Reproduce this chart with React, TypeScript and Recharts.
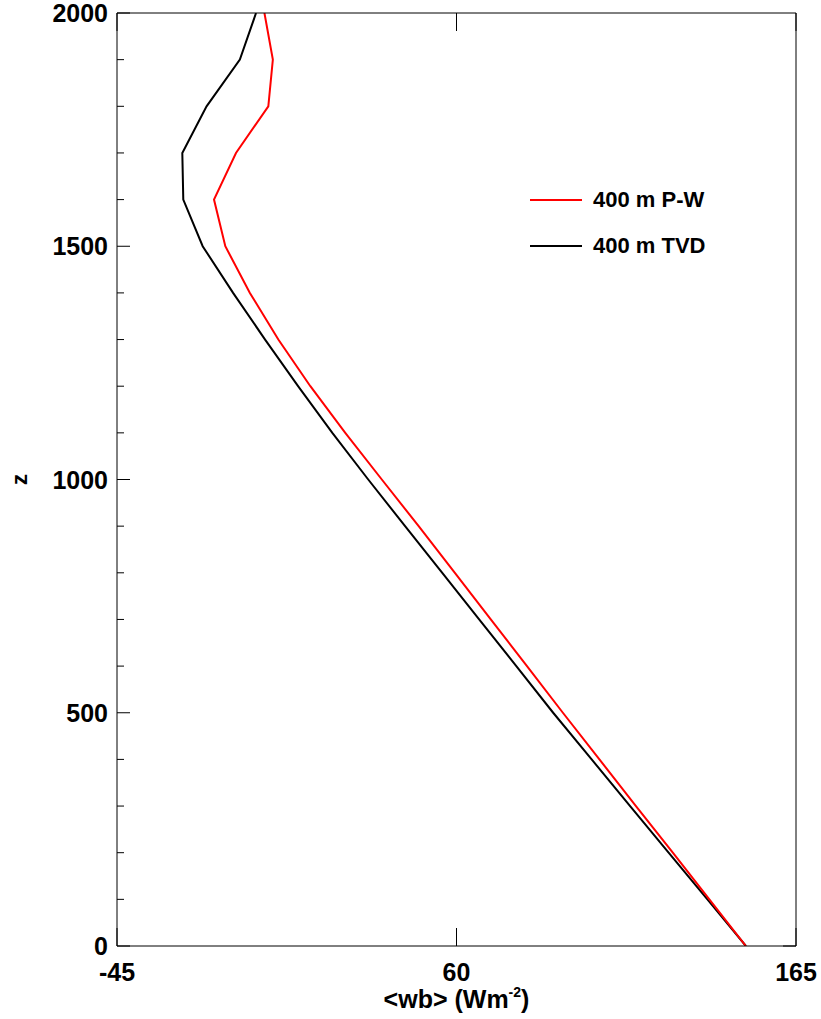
import { Legend, Line, LineChart, XAxis, YAxis } from "recharts";

// height levels (m) and buoyancy flux profiles <wb> (W m^-2)
const zLevels = [0, 100, 200, 300, 400, 500, 600, 700, 800, 900, 1000, 1100, 1200, 1300, 1400, 1500, 1600, 1700, 1800, 1900, 2000];
const pwFlux = [149.5, 138.2, 126.9, 115.5, 104.2, 92.9, 81.8, 70.6, 59.5, 48.3, 36.9, 25.6, 14.8, 4.9, -3.9, -11.5, -15.0, -8.2, 1.8, 3.2, 0.6];
const tvdFlux = [149.5, 137.6, 125.6, 113.7, 101.8, 89.9, 78.5, 67.0, 55.6, 44.1, 32.7, 21.6, 11.0, 0.8, -9.1, -18.5, -24.5, -24.8, -17.3, -7.0, -2.0];

const seriesNames = ["400 m P-W", "400 m TVD"];
const xTicks = [-45, 60, 165];
const zTicks = [0, 100, 200, 300, 400, 500, 600, 700, 800, 900, 1000, 1100, 1200, 1300, 1400, 1500, 1600, 1700, 1800, 1900, 2000];

const data = zLevels.map((z, i) => ({ z, pw: pwFlux[i], tvd: tvdFlux[i] }));

const FONT = '"Liberation Sans", Arial, Helvetica, sans-serif';
const INK = "#000";

function LeftTick({ x, y, payload }: any) {
  const major = payload.value % 500 === 0;
  return (
    <g>
      <line x1={x} x2={x + (major ? 13 : 7)} y1={y} y2={y} stroke={INK} />
      {major && (
        <text x={x - 9} y={y + 9} textAnchor="end" fontFamily={FONT} fontWeight="bold" fontSize={25} fill={INK}>
          {payload.value}
        </text>
      )}
    </g>
  );
}

function RightTick({ x, y, payload }: any) {
  const major = payload.value % 500 === 0;
  return <line x1={x} x2={x - (major ? 13 : 7)} y1={y} y2={y} stroke={INK} />;
}

function BottomTick({ x, y, payload }: any) {
  return (
    <g>
      <line x1={x} x2={x} y1={y} y2={y - 18} stroke={INK} />
      <text x={x} y={y + 35} textAnchor="middle" fontFamily={FONT} fontWeight="bold" fontSize={25} fill={INK}>
        {payload.value}
      </text>
    </g>
  );
}

function TopTick({ x, y }: any) {
  return <line x1={x} x2={x} y1={y} y2={y + 18} stroke={INK} />;
}

function XTitle({ viewBox }: any) {
  const cx = viewBox.x + viewBox.width / 2;
  return (
    <text x={cx} y={1008} textAnchor="middle" fontFamily={FONT} fontWeight="bold" fontSize={25} fill={INK}>
      {"<wb> (Wm"}
      <tspan dy={-11} fontSize={14}>-2</tspan>
      <tspan dy={11}>)</tspan>
    </text>
  );
}

function ZTitle({ viewBox }: any) {
  const cy = viewBox.y + viewBox.height / 2;
  return (
    <text x={27} y={cy} transform={`rotate(-90 27 ${cy})`} textAnchor="middle" fontFamily={FONT} fontWeight="bold" fontSize={22} fill={INK}>
      z
    </text>
  );
}

function LegendBox({ payload }: any) {
  const items = seriesNames
    .map((n) => (payload || []).find((p: any) => p.value === n))
    .filter(Boolean);
  return (
    <div>
      {items.map((e: any) => (
        <div key={e.value} style={{ display: "flex", alignItems: "center", height: 46 }}>
          <svg width={52} height={4}>
            <line x1={0} x2={52} y1={2} y2={2} stroke={e.color} strokeWidth={2} />
          </svg>
          <span style={{ marginLeft: 11, fontFamily: FONT, fontWeight: "bold", fontSize: 22, color: INK }}>
            {e.value}
          </span>
        </div>
      ))}
    </div>
  );
}

export default function App() {
  return (
    <div style={{ width: 821, height: 1019, background: "#fff" }}>
      <style>{`body{margin:0}`}</style>
      <LineChart
        width={821}
        height={1019}
        data={data}
        layout="vertical"
        margin={{ top: 0, right: 0, bottom: 0, left: 0 }}
      >
        <XAxis
          type="number"
          domain={[-45, 165]}
          ticks={xTicks}
          interval={0}
          allowDataOverflow
          height={73}
          tickSize={0}
          tickMargin={0}
          tick={<BottomTick />}
          axisLine={{ stroke: INK }}
          label={{ content: <XTitle /> }}
        />
        <XAxis
          xAxisId="top"
          orientation="top"
          type="number"
          domain={[-45, 165]}
          ticks={xTicks}
          interval={0}
          allowDataOverflow
          height={13}
          tickSize={0}
          tickMargin={0}
          tick={<TopTick />}
          axisLine={{ stroke: INK }}
        />
        <YAxis
          type="number"
          dataKey="z"
          domain={[0, 2000]}
          reversed
          ticks={zTicks}
          interval={0}
          allowDataOverflow
          width={117}
          tickSize={0}
          tickMargin={0}
          tick={<LeftTick />}
          axisLine={{ stroke: INK }}
          label={{ content: <ZTitle /> }}
        />
        <YAxis
          yAxisId="right"
          orientation="right"
          type="number"
          domain={[0, 2000]}
          reversed
          ticks={zTicks}
          interval={0}
          allowDataOverflow
          width={25}
          tickSize={0}
          tickMargin={0}
          tick={<RightTick />}
          axisLine={{ stroke: INK }}
        />
        <Legend
          layout="horizontal"
          verticalAlign="middle"
          align="center"
          content={<LegendBox />}
          wrapperStyle={{ position: "absolute", left: 530, top: 177, width: 220, bottom: "auto" }}
        />
        <Line
          dataKey="tvd"
          name={seriesNames[1]}
          stroke="#000000"
          strokeWidth={2}
          dot={false}
          isAnimationActive={false}
        />
        <Line
          dataKey="pw"
          name={seriesNames[0]}
          stroke="#ff0000"
          strokeWidth={2}
          dot={false}
          isAnimationActive={false}
        />
      </LineChart>
    </div>
  );
}
